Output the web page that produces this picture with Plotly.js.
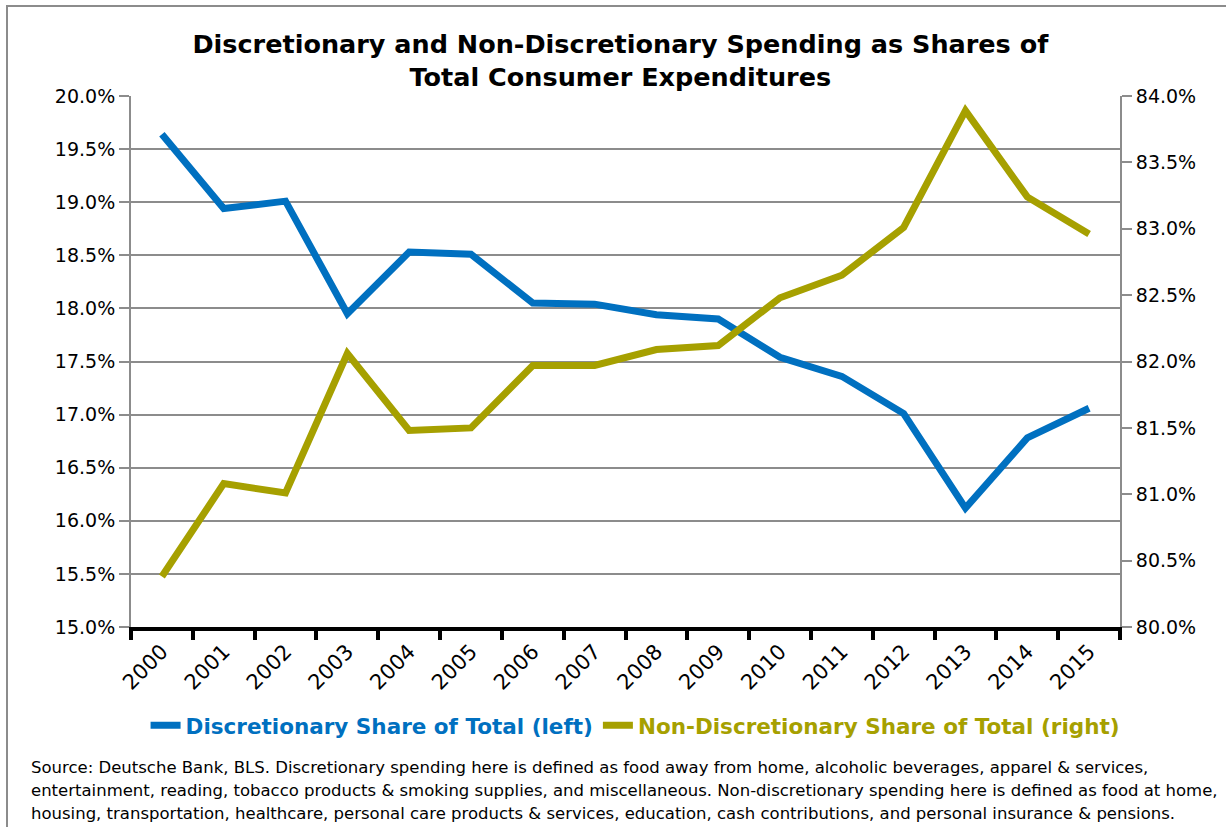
<!DOCTYPE html>
<html>
<head>
<meta charset="utf-8">
<script src="https://cdn.plot.ly/plotly-3.0.1.min.js"></script>
<style>
  html, body { margin: 0; padding: 0; background: #fff; }
  #wrap { position: relative; width: 1226px; height: 827px; overflow: hidden; }
  #chart { width: 1226px; height: 827px; }
  #frame { position: absolute; left: 6px; top: 5px; width: 1300px; height: 900px;
           border-top: 2px solid #8c8c8c; border-left: 2px solid #8c8c8c; pointer-events: none; }
</style>
</head>
<body>
<div id="wrap">
  <div id="chart"></div>
  <div id="frame"></div>
</div>
<script>
const years = ["2000","2001","2002","2003","2004","2005","2006","2007","2008","2009","2010","2011","2012","2013","2014","2015"];
const discretionary = [19.64, 18.94, 19.01, 17.95, 18.53, 18.51, 18.05, 18.04, 17.94, 17.90, 17.54, 17.36, 17.01, 16.12, 16.78, 17.06];
const nonDiscretionary = [80.38, 81.08, 81.01, 82.06, 81.48, 81.50, 81.97, 81.97, 82.09, 82.12, 82.48, 82.65, 83.01, 83.89, 83.24, 82.96];
const leftTicks = [15,15.5,16,16.5,17,17.5,18,18.5,19,19.5,20];
const rightTicks = [80,80.5,81,81.5,82,82.5,83,83.5,84];
const footLines = [
  "Source: Deutsche Bank, BLS. Discretionary spending here is defined as food away from home, alcoholic beverages, apparel &amp; services,",
  "entertainment, reading, tobacco products &amp; smoking supplies, and miscellaneous. Non-discretionary spending here is defined as food at home,",
  "housing, transportation, healthcare, personal care products &amp; services, education, cash contributions, and personal insurance &amp; pensions."
];

const BLUE = "#0070C0";
const OLIVE = "#A6A000";
const FONT = "Tahoma, 'DejaVu Sans', Verdana, sans-serif";

const traces = [
  {
    x: years, y: discretionary, type: "scatter", mode: "lines",
    name: "<b>Discretionary Share of Total (left)</b>",
    line: { color: BLUE, width: 7 }, yaxis: "y"
  },
  {
    x: years, y: nonDiscretionary, type: "scatter", mode: "lines",
    name: "<b>Non-Discretionary Share of Total (right)</b>",
    line: { color: OLIVE, width: 7 }, yaxis: "y2"
  }
];

const footY = [-0.2637, -0.307, -0.3503];
const annotations = footLines.map((t, i) => ({
  text: t,
  xref: "paper", yref: "paper",
  x: -0.103, xanchor: "left",
  y: footY[i], yanchor: "middle",
  showarrow: false, align: "left",
  font: { family: FONT, size: 16.5, color: "#000" }
}));

const layout = {
  width: 1226, height: 827,
  paper_bgcolor: "#ffffff", plot_bgcolor: "#ffffff",
  margin: { l: 131, r: 106, t: 96, b: 200, autoexpand: false },
  font: { family: FONT, color: "#000", size: 19 },
  title: {
    text: "<b>Discretionary and Non-Discretionary Spending as Shares of<br>Total Consumer Expenditures</b>",
    font: { family: "'DejaVu Sans', Verdana, sans-serif", size: 25.5, color: "#000" },
    x: 0.506, xanchor: "center", y: 0.936, yanchor: "top"
  },
  xaxis: {
    type: "category",
    range: [-0.5, 15.5],
    tickson: "boundaries",
    ticks: "outside", ticklen: 9, tickwidth: 4, tickcolor: "#000",
    showline: true, linecolor: "#000", linewidth: 4,
    showgrid: false, zeroline: false,
    tickangle: -45,
    tickfont: { family: FONT, size: 21, color: "#000" },
    fixedrange: true
  },
  yaxis: {
    range: [15, 20],
    tickvals: leftTicks,
    ticktext: leftTicks.map(v => v.toFixed(1) + "%"),
    ticks: "outside", ticklen: 10, tickwidth: 2, tickcolor: "#8c8c8c",
    showline: true, linecolor: "#8c8c8c", linewidth: 2,
    showgrid: true, gridcolor: "#8c8c8c", gridwidth: 2,
    zeroline: false,
    tickfont: { family: FONT, size: 19, color: "#000" },
    fixedrange: true
  },
  yaxis2: {
    range: [80, 84],
    overlaying: "y", side: "right",
    tickvals: rightTicks,
    ticktext: rightTicks.map(v => v.toFixed(1) + "%"),
    ticks: "outside", ticklen: 10, tickwidth: 2, tickcolor: "#8c8c8c",
    showline: true, linecolor: "#8c8c8c", linewidth: 2,
    showgrid: false, zeroline: false,
    tickfont: { family: FONT, size: 19, color: "#000" },
    fixedrange: true
  },
  showlegend: true,
  legend: {
    orientation: "h",
    xref: "container",
    x: 0.518, xanchor: "center",
    y: -0.185, yanchor: "middle",
    font: { family: FONT, size: 21.5 },
    itemwidth: 30,
    itemgap: 60,
    bgcolor: "rgba(0,0,0,0)",
    traceorder: "normal"
  },
  annotations: annotations
};

Plotly.newPlot("chart", traces, layout, { displayModeBar: false, staticPlot: true }).then(function () {
  const texts = document.querySelectorAll(".legendtext");
  const cols = [BLUE, OLIVE];
  texts.forEach((t, i) => { t.style.fill = cols[i]; });
});
</script>
</body>
</html>
